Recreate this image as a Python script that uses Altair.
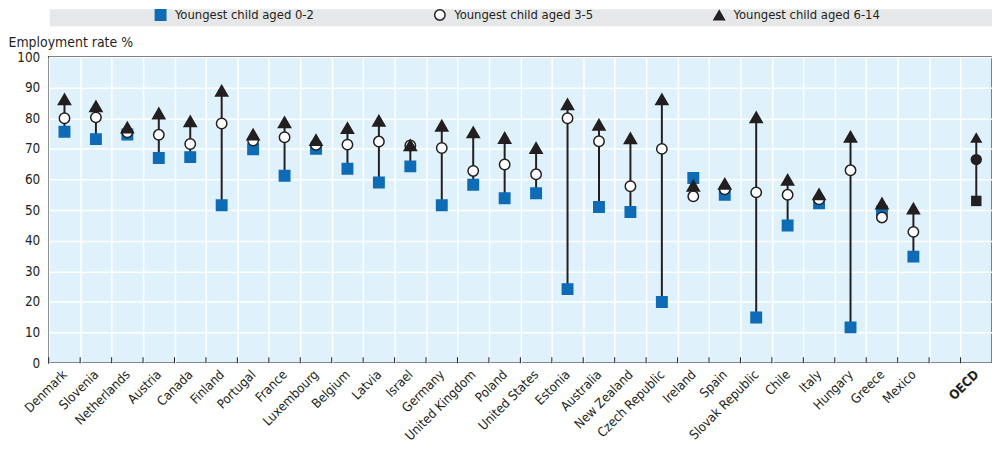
import altair as alt
import pandas as pd

# ---------------- data ----------------
countries = ["Denmark", "Slovenia", "Netherlands", "Austria", "Canada", "Finland",
             "Portugal", "France", "Luxembourg", "Belgium", "Latvia", "Israel",
             "Germany", "United Kingdom", "Poland", "United States", "Estonia",
             "Australia", "New Zealand", "Czech Republic", "Ireland", "Spain",
             "Slovak Republic", "Chile", "Italy", "Hungary", "Greece", "Mexico", "OECD"]
age_0_2 = [75.6, 73.2, 74.7, 67.0, 67.3, 51.6, 69.9, 61.2, 70.0, 63.5, 59.0, 64.3,
           51.6, 58.3, 53.9, 55.5, 24.2, 51.0, 49.4, 20.0, 60.5, 55.0,
           14.9, 45.0, 52.2, 11.7, 49.6, 34.8, 53.0]
age_3_5 = [80.0, 80.3, 75.4, 74.6, 71.6, 78.3, 72.7, 73.8, 71.3, 71.4, 72.4, 71.1,
           70.3, 62.8, 64.9, 61.7, 80.0, 72.5, 57.8, 70.0, 54.5, 56.8,
           55.8, 55.0, 53.5, 63.0, 47.6, 42.9, 66.5]
age_6_14 = [86.2, 83.9, 77.0, 81.6, 79.0, 89.0, 74.7, 78.7, 72.9, 76.8, 79.2, 71.2,
            77.6, 75.4, 73.6, 70.3, 84.6, 77.9, 73.5, 86.2, 58.0, 58.6,
            80.3, 59.9, 55.2, 74.0, 52.2, 50.5, 73.7]
series_names = ["Youngest child aged 0-2", "Youngest child aged 3-5", "Youngest child aged 6-14"]
gap_slot = " "
x_domain = countries[:-1] + [gap_slot] + countries[-1:]

rows = []
for name, vals in zip(series_names, [age_0_2, age_3_5, age_6_14]):
    for c, v in zip(countries, vals):
        rows.append({"country": c, "series": name, "value": v})
points_df = pd.DataFrame(rows)
range_df = pd.DataFrame({
    "country": countries,
    "lo": [min(a, b, c) for a, b, c in zip(age_0_2, age_3_5, age_6_14)],
    "hi": [max(a, b, c) for a, b, c in zip(age_0_2, age_3_5, age_6_14)],
})
ticks_df = pd.DataFrame({"country": x_domain})

# ---------------- style ----------------
FONT = "'DejaVu Sans Condensed', 'Liberation Sans Narrow', 'Arial Narrow', Roboto, sans-serif"
DARK = "#231f20"
BLUE = "#0e6bb5"
W, H = 949, 308

xscale = alt.Scale(type="band", domain=x_domain, paddingInner=0, paddingOuter=0)
x_axis = alt.Axis(title=None, labelAngle=-45, labelAlign="right", labelBaseline="middle",
                  labelFont=FONT, labelFontSize=13, labelColor=DARK, labelPadding=9,
                  ticks=False, domain=False, grid=True, gridColor="white", gridWidth=1.5,
                  tickBand="extent", labelLimit=200,
                  labelFontWeight=alt.expr("datum.value == 'OECD' ? 'bold' : 'normal'"))
yscale = alt.Scale(domain=[0, 100], nice=False, zero=True)
y_axis = alt.Axis(title="Employment rate %", titleAngle=0, titleAlign="left",
                  titleBaseline="alphabetic", titleX=-41, titleY=-11, titleFont=FONT,
                  titleFontSize=14, titleFontWeight="normal", titleColor=DARK,
                  tickCount=10, labelFont=FONT, labelFontSize=13.5, labelColor=DARK,
                  ticks=False, domain=False, labelPadding=9,
                  grid=True, gridColor="white", gridWidth=1.5)

X = alt.X("country:N", scale=xscale, axis=x_axis, sort=x_domain)
Y = alt.Y("value:Q", scale=yscale)

legend = alt.Legend(orient="none", legendX=106, legendY=-49, direction="horizontal",
                    title=None, labelFont=FONT, labelFontSize=13, labelColor=DARK,
                    labelLimit=300, symbolSize=110, symbolStrokeWidth=1.5, labelOffset=8,
                    columnPadding=110, gridAlign="all", padding=0, rowPadding=0,
                    symbolOpacity=1)

band = alt.Chart(alt.Data(values=[{}])).mark_rect(color="#e6e7e8").encode(
    x=alt.value(1), x2=alt.value(W), y=alt.value(-48), y2=alt.value(-31))

ranges = alt.Chart(range_df).mark_rule(color=DARK, strokeWidth=2).encode(
    x=X,
    y=alt.Y("lo:Q", scale=yscale, axis=y_axis),
    y2="hi:Q")

ticks = alt.Chart(ticks_df).mark_rule(color=DARK, strokeWidth=1).encode(
    x=alt.X("country:N", scale=xscale, bandPosition=0, sort=x_domain),
    y=alt.value(H - 6), y2=alt.value(H))

points = alt.Chart(points_df).transform_filter(
    alt.datum.country != "OECD"
).transform_calculate(
    sz=f"datum.series == '{series_names[2]}' ? 150 : 110"
).mark_point(filled=True, opacity=1, strokeWidth=1.5).encode(
    x=X,
    y=Y,
    shape=alt.Shape("series:N", scale=alt.Scale(domain=series_names,
                    range=["square", "circle", "triangle-up"]), legend=legend),
    fill=alt.Fill("series:N", scale=alt.Scale(domain=series_names,
                  range=[BLUE, "white", DARK]), legend=legend),
    stroke=alt.Stroke("series:N", scale=alt.Scale(domain=series_names,
                      range=[BLUE, DARK, DARK]), legend=legend),
    size=alt.Size("sz:Q", scale=None),
)

oecd_base = alt.Chart(points_df).transform_filter(alt.datum.country == "OECD")
oecd_sq = oecd_base.transform_filter(alt.datum.series == series_names[0]).mark_point(
    shape="square", filled=True, color=DARK, opacity=1, size=110).encode(x=X, y=Y)
oecd_ci = oecd_base.transform_filter(alt.datum.series == series_names[1]).mark_point(
    shape="circle", filled=True, color=DARK, opacity=1, size=130).encode(x=X, y=Y)
oecd_tr = oecd_base.transform_filter(alt.datum.series == series_names[2]).mark_point(
    shape="triangle-up", filled=True, color=DARK, opacity=1, size=150).encode(x=X, y=Y)

chart = alt.layer(band, ranges, ticks, points, oecd_sq, oecd_ci, oecd_tr).properties(
    width=W, height=H,
    autosize=alt.AutoSizeParams(type="none"),
    padding={"left": 41, "top": 48, "right": 0, "bottom": 85},
).configure_view(
    fill="#dff1fb", stroke=DARK, strokeWidth=1.5
)

chart.save("out.html", embed_options={"renderer": "svg", "actions": False})
